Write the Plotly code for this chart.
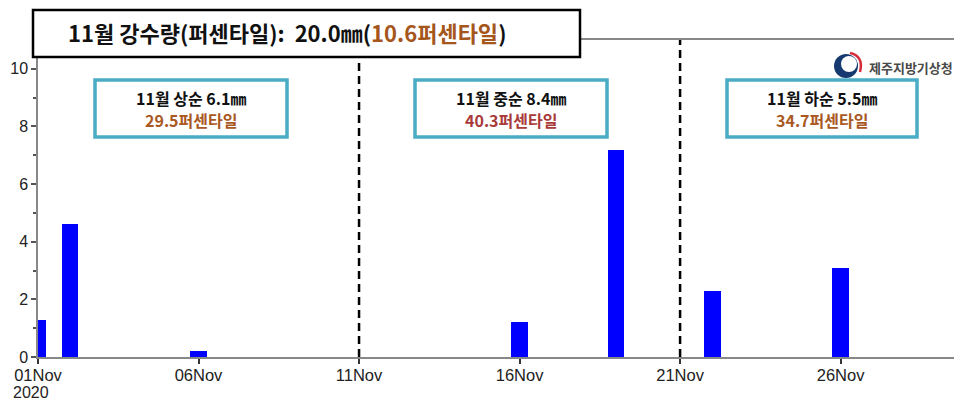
import plotly.graph_objects as go

# ---- data ----
dates = ["2020-11-01", "2020-11-02", "2020-11-06", "2020-11-16", "2020-11-19", "2020-11-22", "2020-11-26"]
rain_mm = [1.3, 4.6, 0.2, 1.2, 7.2, 2.3, 3.1]
tick_dates = ["2020-11-01", "2020-11-06", "2020-11-11", "2020-11-16", "2020-11-21", "2020-11-26"]
tick_labels = ["01Nov", "06Nov", "11Nov", "16Nov", "21Nov", "26Nov"]
year_label = "2020"
dekad_bounds = ["2020-11-11", "2020-11-21"]
title_text = "11월 강수량(퍼센타일):&nbsp;&nbsp;20.0㎜("
title_pct = "10.6퍼센타일"
dekad_lines = ["11월 상순 6.1㎜", "11월 중순 8.4㎜", "11월 하순 5.5㎜"]
dekad_pcts = ["29.5퍼센타일", "40.3퍼센타일", "34.7퍼센타일"]
dekad_pct_colors = ["#A9581F", "#A83A3A", "#A9581F"]
agency = "제주지방기상청"

# page body has an 8px margin: figure is drawn from (8, 8) of the window
OFF = 8
W, H = 962 - OFF, 401 - OFF
ML, MR, MT, MB = 38 - OFF, 0, 40 - OFF, 44
PW, PH = W - ML - MR, H - MT - MB

def px(x):
    # window pixel -> paper fraction
    return (x - OFF - ML) / PW

def py(y):
    return (H - MB - (y - OFF)) / PH

KR = "Noto Sans CJK KR"
LAT = "Liberation Sans, Arial, sans-serif"

fig = go.Figure()
fig.add_trace(go.Bar(
    x=dates, y=rain_mm, width=0.52 * 86400000,
    marker=dict(color="#0000FF", line=dict(width=0)),
))

shapes = []
for d in dekad_bounds:
    shapes.append(dict(type="line", xref="x", yref="paper", x0=d, x1=d, y0=0, y1=1,
                       line=dict(color="black", width=2.5, dash="8px,5px"), layer="above"))
shapes.append(dict(type="rect", xref="paper", yref="paper",
                   x0=px(33), x1=px(580), y0=py(57), y1=py(10),
                   fillcolor="white", line=dict(color="black", width=2.5), layer="above"))
box_x = [(95, 287), (415, 607), (727, 917)]
for (a, b) in box_x:
    shapes.append(dict(type="rect", xref="paper", yref="paper",
                       x0=px(a), x1=px(b), y0=py(137), y1=py(80),
                       fillcolor="white", line=dict(color="#4BACC6", width=3.5), layer="above"))
# logo (approximate taeguk mark)
cx, cy, r = 846, 66, 12
shapes.append(dict(type="circle", xref="paper", yref="paper",
                   x0=px(cx - r), x1=px(cx + r), y0=py(cy + r), y1=py(cy - r),
                   fillcolor="#163A70", line=dict(width=0), layer="above"))
r2 = 8
shapes.append(dict(type="circle", xref="paper", yref="paper",
                   x0=px(cx + 3 - r2), x1=px(cx + 3 + r2), y0=py(cy - 2 + r2), y1=py(cy - 2 - r2),
                   fillcolor="white", line=dict(width=0), layer="above"))

def P(x, y):
    return f"{px(x)},{py(y)}"

shapes.append(dict(type="path", xref="paper", yref="paper",
                   path=f"M{P(850, 53)} Q{P(864, 56)} {P(860, 72)}",
                   line=dict(color="#D62C3A", width=2.5), layer="above"))

annotations = []
annotations.append(dict(
    xref="paper", yref="paper", x=px(287), y=py(32), xanchor="center", yanchor="middle",
    text=f"<b>{title_text}<span style='color:#A5561C'>{title_pct}</span>)</b>",
    showarrow=False, font=dict(family=KR, size=22, color="#111111"),
))
for i, (a, b) in enumerate(box_x):
    cxm = (a + b) / 2
    annotations.append(dict(
        xref="paper", yref="paper", x=px(cxm), y=py(98.5), xanchor="center", yanchor="middle",
        text=f"<b>{dekad_lines[i]}</b>", showarrow=False,
        font=dict(family=KR, size=16, color="#111111"),
    ))
    annotations.append(dict(
        xref="paper", yref="paper", x=px(cxm), y=py(119.5), xanchor="center", yanchor="middle",
        text=f"<b>{dekad_pcts[i]}</b>", showarrow=False,
        font=dict(family=KR, size=16, color=dekad_pct_colors[i]),
    ))
annotations.append(dict(
    xref="paper", yref="paper", x=px(867), y=py(67), xanchor="left", yanchor="middle",
    text=f"<b>{agency}</b>", showarrow=False,
    font=dict(family=KR, size=13, color="#4A4A4A"),
))
annotations.append(dict(
    xref="paper", yref="paper", x=px(31), y=py(392), xanchor="center", yanchor="middle",
    text=year_label, showarrow=False,
    font=dict(family=LAT, size=16, color="#222222"),
))

fig.update_layout(
    width=W, height=H,
    margin=dict(l=ML, r=MR, t=MT, b=MB, pad=0, autoexpand=False),
    plot_bgcolor="white", paper_bgcolor="white",
    showlegend=False, bargap=0,
    shapes=shapes, annotations=annotations,
    xaxis=dict(
        type="date", range=["2020-11-01", "2020-11-29 18:45"], automargin=False,
        tickvals=tick_dates, ticktext=tick_labels,
        ticks="outside", ticklen=5, tickcolor="#333333", tickwidth=1.5,
        ticklabelstandoff=-3,
        showgrid=False, zeroline=False,
        showline=True, linecolor="#888888", linewidth=1.5, mirror=True,
        tickfont=dict(family=LAT, size=16.5, color="#222222"),
    ),
    yaxis=dict(
        range=[0, 11], tickvals=[0, 2, 4, 6, 8, 10], automargin=False,
        ticks="outside", ticklen=5, tickcolor="#555555", tickwidth=1.5,
        minor=dict(tickvals=[1, 3, 5, 7, 9], ticks="outside", ticklen=3, tickcolor="#555555"),
        showgrid=False, zeroline=False,
        showline=True, linecolor="#888888", linewidth=1.5, mirror=True,
        tickfont=dict(family=LAT, size=16, color="#222222"),
    ),
)

fig.write_html("out.html")
